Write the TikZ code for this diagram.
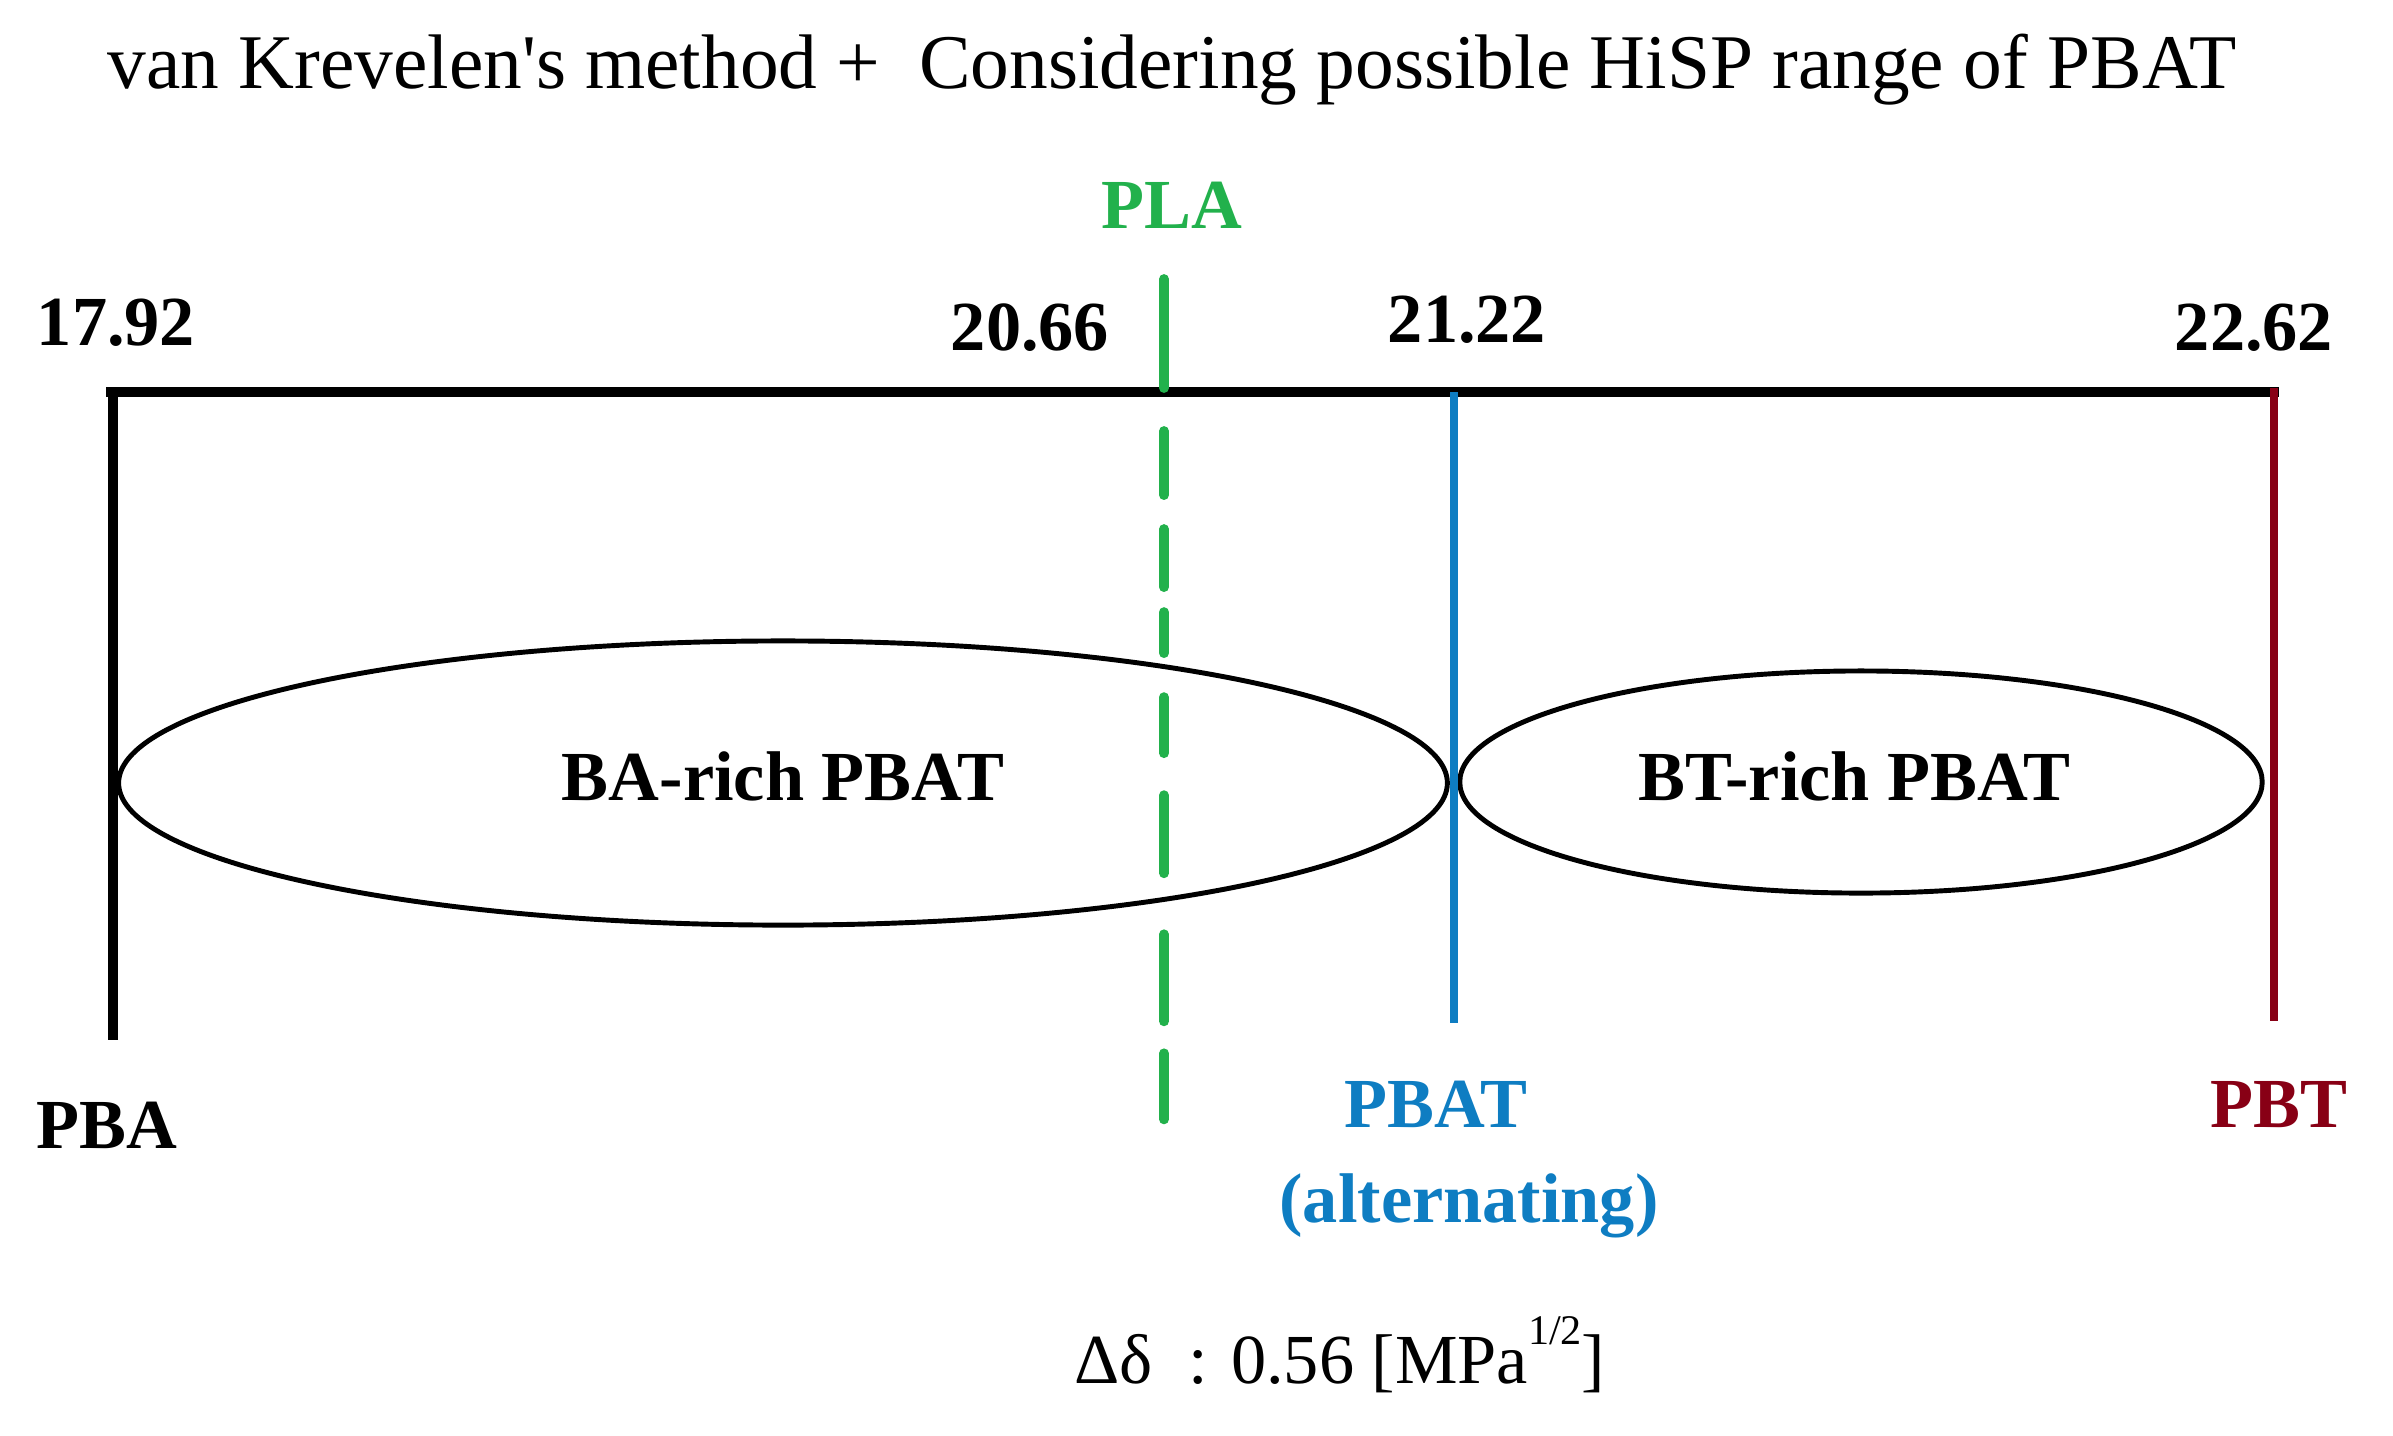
\documentclass[tikz,border=0pt]{standalone}
\usepackage{fontspec}
\setmainfont{Liberation Serif}
\usetikzlibrary{shapes.geometric}
\definecolor{plagreen}{HTML}{22B14C}
\definecolor{pbatblue}{HTML}{0E7DC2}
\definecolor{pbtred}{HTML}{880015}
\tikzset{
  lbl/.style={anchor=base, inner sep=0pt, font=\fontsize{20pt}{24pt}\selectfont\bfseries},
  titletxt/.style={anchor=base, inner sep=0pt, font=\fontsize{22pt}{26pt}\selectfont},
  unittxt/.style={anchor=base, inner sep=0pt, font=\fontsize{20pt}{24pt}\selectfont},
  ell/.style={draw=black, line width=1.4pt, ellipse, inner sep=0pt},
  axisline/.style={line width=3.1pt, black},
  bar/.style={line width=2.4pt},
}
\begin{document}
\begin{tikzpicture}[x=0.01cm, y=-0.01cm]
\useasboundingbox (0,0) rectangle (2393,1435);

% title
\node[titletxt] (title) at (1172,88) {van Krevelen\textquotesingle s method +\ \ Considering possible HiSP range of PBAT};

% coordinates
\coordinate (tl) at (106,392);
\coordinate (tr) at (2279,392);
\coordinate (pbatop) at (113,390);
\coordinate (pbabot) at (113,1040);
\coordinate (platop) at (1164,279);
\coordinate (plamid) at (1164,388);
\coordinate (pladtop) at (1164,431);
\coordinate (pladbot) at (1164,1120);
\coordinate (pbattop) at (1454,392);
\coordinate (pbatbot) at (1454,1023);
\coordinate (pbttop) at (2274,388);
\coordinate (pbtbot) at (2274,1021);

% ellipses
\node[ell, minimum width=13.28cm, minimum height=2.84cm] (baell) at (783,783) {};
\node[ell, minimum width=8.02cm, minimum height=2.22cm] (btell) at (1861,782) {};

% lines
\draw[axisline] (tl) -- (tr);
\draw[bar, line width=2.9pt, black] (pbatop) -- (pbabot);
\draw[bar, line width=2.8pt, plagreen, line cap=round] (platop) -- (plamid);
\draw[bar, line width=2.8pt, plagreen, line cap=round,
  dash pattern=on 18.21pt off 9.67pt on 16.50pt off 7.11pt on 11.67pt off 12.52pt on 15.93pt off 11.95pt on 22.19pt off 17.36pt on 24.75pt off 9.10pt on 18.78pt off 31.30pt]
  (pladtop) -- (pladbot);
\draw[bar, pbatblue] (pbattop) -- (pbatbot);
\draw[bar, pbtred] (pbttop) -- (pbtbot);

% number labels
\node[lbl] (v1792) at (116,345) {17.92};
\node[lbl] (v2066) at (1030,350) {20.66};
\node[lbl] (v2122) at (1467,342) {21.22};
\node[lbl] (v2262) at (2254,350) {22.62};
\node[lbl, text=plagreen] (pla) at (1172,228) {PLA};

% ellipse texts
\node[lbl] (batxt) at (783,800) {BA-rich PBAT};
\node[lbl] (bttxt) at (1854,800) {BT-rich PBAT};

% bottom labels
\node[lbl] (pba) at (107,1148) {PBA};
\node[lbl, text=pbatblue] (pbat) at (1436,1127) {PBAT};
\node[lbl, text=pbatblue] (alt) at (1469,1222) {(alternating)};
\node[lbl, text=pbtred] (pbt) at (2279,1127) {PBT};

% delta
\node[unittxt] (delta) at (1340,1383) {Δδ\ \ : 0.56 [MPa\raisebox{0.55em}{\fontsize{12pt}{14pt}\selectfont 1/2}]};
\end{tikzpicture}
\end{document}
